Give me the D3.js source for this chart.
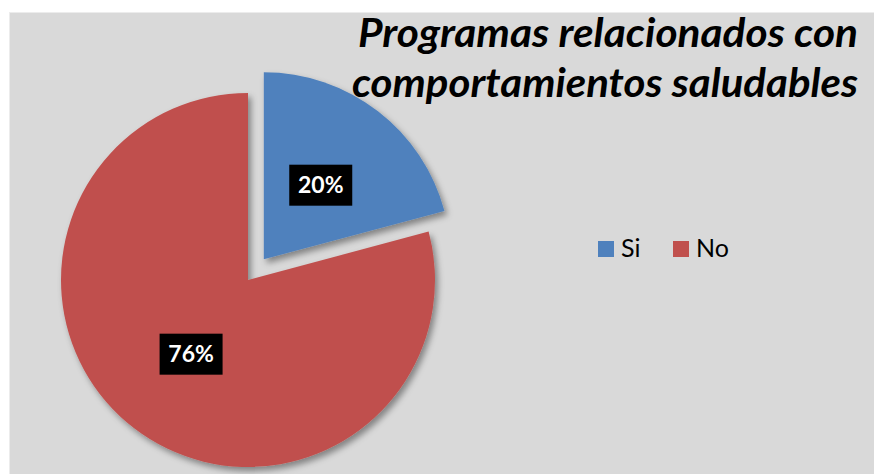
<!DOCTYPE html>
<html>
<head>
<meta charset="utf-8">
<script src="https://cdn.jsdelivr.net/npm/d3@7"></script>
<style>
  html, body { margin: 0; padding: 0; background: #fff; }
  svg { display: block; }
</style>
</head>
<body>
<svg id="chart" width="874" height="474"></svg>
<script>
// chart data
const categories = ['Si', 'No'];
const values = [20, 76];
const colors = ['#4f81bd', '#c0504d'];
const titleLines = ['Programas relacionados con', 'comportamientos saludables'];

const width = 874, height = 474;
const radius = 187;
const center = [248, 280];
const explode = [26, 0];   // pull-out distance per slice
const fontFamily = 'Lato, "Open Sans", sans-serif';

const svg = d3.select('#chart');

// drop shadow like the office chart
const defs = svg.append('defs');
const shadow = defs.append('filter')
    .attr('id', 'shadow')
    .attr('x', '-20%').attr('y', '-20%')
    .attr('width', '140%').attr('height', '140%');
shadow.append('feDropShadow')
    .attr('dx', 3).attr('dy', 4)
    .attr('stdDeviation', 3)
    .attr('flood-color', '#000')
    .attr('flood-opacity', 0.4);

// chart area background
svg.append('rect')
    .attr('x', 9.5).attr('y', 12.5)
    .attr('width', width).attr('height', height)
    .attr('fill', '#d9d9d9')
    .attr('stroke', '#ececec');

// === Pie ===
const pie = d3.pie().sort(null).value(d => d);
const arcs = pie(values);
const arc = d3.arc().innerRadius(0).outerRadius(radius);

const offset = (d, i) => {
    const mid = (d.startAngle + d.endAngle) / 2;
    return [center[0] + Math.sin(mid) * explode[i], center[1] - Math.cos(mid) * explode[i]];
};

const slices = svg.append('g').attr('class', 'slices');
slices.selectAll('path')
    .data(arcs)
    .enter()
    .append('path')
    .attr('transform', (d, i) => `translate(${offset(d, i)})`)
    .attr('d', arc)
    .attr('fill', (d, i) => colors[i])
    .attr('filter', 'url(#shadow)');

// data labels in black boxes
const labels = svg.append('g').attr('class', 'labels')
    .selectAll('g')
    .data(arcs)
    .enter()
    .append('g')
    .attr('transform', (d, i) => {
        const o = offset(d, i);
        const c = arc.centroid(d);
        return `translate(${o[0] + c[0]},${o[1] + c[1]})`;
    });

labels.append('rect')
    .attr('x', -31.5).attr('y', -20.5)
    .attr('width', 63).attr('height', 41)
    .attr('fill', '#000');

labels.append('text')
    .attr('text-anchor', 'middle')
    .attr('y', 8)
    .attr('font-family', fontFamily)
    .attr('font-weight', 700)
    .attr('font-size', 23)
    .attr('fill', '#fff')
    .text(d => d.data + '%');

// === Title ===
svg.append('g').attr('class', 'title')
    .selectAll('text')
    .data(titleLines)
    .enter()
    .append('text')
    .attr('x', 858)
    .attr('y', (d, i) => 47 + i * 50)
    .attr('text-anchor', 'end')
    .attr('font-family', fontFamily)
    .attr('font-weight', 700)
    .attr('font-style', 'italic')
    .attr('font-size', 40)
    .attr('textLength', (d, i) => [500, 506][i])
    .attr('lengthAdjust', 'spacingAndGlyphs')
    .attr('fill', '#000')
    .text(d => d);

// === Legend ===
const legendX = d3.scalePoint().domain(categories).range([598, 673]);

const legend = svg.append('g').attr('class', 'legend')
    .selectAll('g')
    .data(categories)
    .enter()
    .append('g')
    .attr('transform', d => `translate(${legendX(d)},241)`);

legend.append('rect')
    .attr('width', 16).attr('height', 16)
    .attr('fill', (d, i) => colors[i]);

legend.append('text')
    .attr('x', 23).attr('y', 16)
    .attr('font-family', fontFamily)
    .attr('font-size', 25)
    .attr('fill', '#000')
    .text(d => d);
</script>
</body>
</html>
